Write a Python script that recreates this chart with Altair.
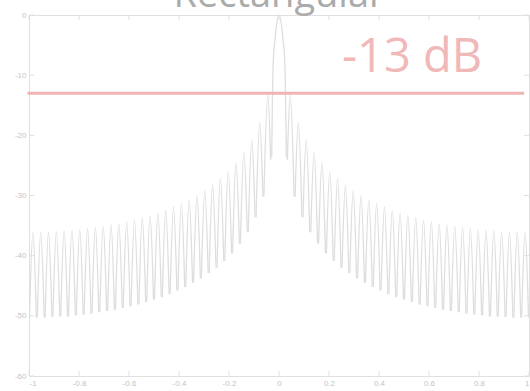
import altair as alt
import pandas as pd

# ---- data ----
x_ticks = [-1, -0.8, -0.6, -0.4, -0.2, 0, 0.2, 0.4, 0.6, 0.8, 1]
y_ticks = [-60, -50, -40, -30, -20, -10, 0]

# main lobe (right half, mirrored for the left half)
main_f = [0, 0.0156, 0.0234, 0.0273, 0.0293]
main_db = [0, -3.9, -8.1, -17.1, -23.6]

# nulls between lobes (right half) and the level where each lobe's flanks end
null_f = [0.0313, 0.0625, 0.0938, 0.125, 0.1563, 0.1875, 0.2188, 0.25,
          0.2813, 0.3125, 0.3438, 0.375, 0.4063, 0.4375, 0.4688, 0.5,
          0.5313, 0.5625, 0.5938, 0.625, 0.6563, 0.6875, 0.7188, 0.75,
          0.7813, 0.8125, 0.8438, 0.875, 0.9063, 0.9375, 0.9688, 1.0]
trough_db = [-24.1, -30.2, -33.6, -36.1, -38.0, -39.6, -40.9, -42.0,
             -42.9, -43.8, -44.5, -45.2, -45.8, -46.4, -46.9, -47.3,
             -47.7, -48.1, -48.4, -48.7, -49.0, -49.2, -49.4, -49.6,
             -49.8, -49.9, -50.1, -50.1, -50.2, -50.3, -50.3, -50.3]

# side-lobe peaks (right half)
peak_f = [0.0449, 0.0771, 0.1086, 0.1406, 0.1719, 0.2031, 0.2344, 0.2656,
          0.2969, 0.3281, 0.3594, 0.3906, 0.4219, 0.4531, 0.4844, 0.5156,
          0.5469, 0.5781, 0.6094, 0.6406, 0.6719, 0.7031, 0.7344, 0.7656,
          0.7969, 0.8281, 0.8594, 0.8906, 0.9219, 0.9531, 0.9844]
peak_db = [-13.3, -17.9, -20.8, -22.9, -24.6, -26.0, -27.2, -28.3,
           -29.2, -30.0, -30.7, -31.3, -31.9, -32.4, -32.9, -33.3,
           -33.7, -34.1, -34.4, -34.7, -34.9, -35.1, -35.3, -35.5,
           -35.7, -35.8, -35.9, -36.0, -36.1, -36.1, -36.1]
edge_gap = 0.002

thr_db = [-13]
thr_x = [-1.0]
thr_x2 = [0.975]
ann_text = ["-13 dB"]
ann_x = [0.252]
ann_y = [-9.5]
title_text = ["Rectangular"]
title_x = [0]

# ---- build table ----
rows = []
for f, d in zip(main_f, main_db):
    rows.append({"f": f, "db": d, "lobe": "main"})
    if f != 0:
        rows.append({"f": -f, "db": d, "lobe": "main"})
for k in range(len(peak_f)):
    for sgn in (1, -1):
        lid = f"{sgn}_{k}"
        rows.append({"f": sgn * (null_f[k] + edge_gap), "db": trough_db[k], "lobe": lid})
        rows.append({"f": sgn * peak_f[k], "db": peak_db[k], "lobe": lid})
        rows.append({"f": sgn * (null_f[k + 1] - edge_gap), "db": trough_db[k + 1], "lobe": lid})
curve = pd.DataFrame(rows)

xs = alt.Scale(domain=[-1, 1], nice=False, zero=False)
ys = alt.Scale(domain=[-60, 0], nice=False, zero=False)
label_color = "#c4c4c4"
box_color = "#e0e0e0"

line = alt.Chart(curve).mark_line(
    interpolate="monotone", color="#dedede", strokeWidth=1.3
).encode(
    x=alt.X("f:Q", scale=xs, axis=alt.Axis(
        values=x_ticks, labelExpr="'' + datum.value", grid=False, domain=False,
        ticks=False, tickSize=0, labelPadding=3, labelFontSize=8,
        labelColor=label_color, labelFont="Liberation Sans", title=None)),
    y=alt.Y("db:Q", scale=ys, axis=alt.Axis(
        values=y_ticks, labelExpr="'' + datum.value", grid=False, domain=False,
        ticks=False, tickSize=0, labelPadding=3, labelFontSize=8,
        labelColor=label_color, labelFont="Liberation Sans", title=None)),
    detail="lobe:N",
)

xt = pd.DataFrame({"t": x_ticks})
yt = pd.DataFrame({"t": y_ticks})
tick_b = alt.Chart(xt).mark_rule(color=box_color).encode(
    x=alt.X("t:Q", scale=xs), y=alt.value(361), y2=alt.value(356))
tick_t = alt.Chart(xt).mark_rule(color=box_color).encode(
    x=alt.X("t:Q", scale=xs), y=alt.value(0), y2=alt.value(5))
tick_l = alt.Chart(yt).mark_rule(color=box_color).encode(
    y=alt.Y("t:Q", scale=ys), x=alt.value(0), x2=alt.value(5))
tick_r = alt.Chart(yt).mark_rule(color=box_color).encode(
    y=alt.Y("t:Q", scale=ys), x=alt.value(495), x2=alt.value(500))

thr = alt.Chart(pd.DataFrame({"y": thr_db, "x": thr_x, "x2": thr_x2})).mark_rule(
    color="#f0b4b4", strokeWidth=3, strokeCap="square"
).encode(
    y=alt.Y("y:Q", scale=ys),
    x=alt.X("x:Q", scale=xs), x2="x2:Q")

ann = alt.Chart(pd.DataFrame({"t": ann_text, "x": ann_x, "y": ann_y})).mark_text(
    align="left", baseline="alphabetic", font="Open Sans", fontSize=47, color="#f0b8b8"
).encode(x=alt.X("x:Q", scale=xs), y=alt.Y("y:Q", scale=ys), text="t:N")

ttl = alt.Chart(pd.DataFrame({"t": title_text, "x": title_x})).mark_text(
    align="center", baseline="alphabetic", font="Open Sans", fontSize=38, color="#ababab"
).encode(x=alt.X("x:Q", scale=xs), y=alt.value(-8), text="t:N")

chart = alt.layer(line, tick_b, tick_t, tick_l, tick_r, thr, ann, ttl).properties(
    width=500, height=361,
    padding={"left": 29, "top": 15, "right": 1, "bottom": 15},
    autosize=alt.AutoSizeParams(type="none"),
    background="white",
).configure_view(stroke=box_color, strokeWidth=1)

chart.save("out.html", embed_options={"renderer": "svg", "actions": False})
